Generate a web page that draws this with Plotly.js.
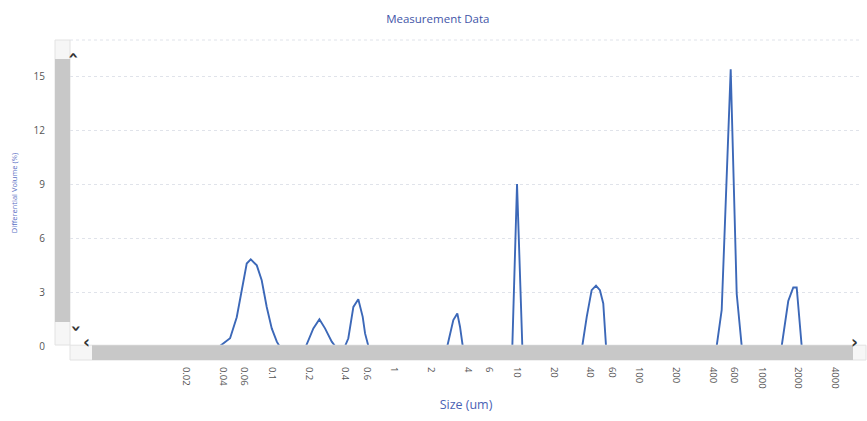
<!DOCTYPE html>
<html>
<head>
<meta charset="utf-8">
<script src="https://cdn.plot.ly/plotly-3.0.1.min.js"></script>
<style>html,body{margin:0;padding:0;background:#fff;}#chart{width:867px;height:421px;}</style>
</head>
<body>
<div id="chart"></div>
<script>
// Particle size (um) and differential volume (%)
const sizeUm = [
  0.0378, 0.0457, 0.0518, 0.0569, 0.0625, 0.0674, 0.0755, 0.0828, 0.0910, 0.100, 0.110, 0.1154,
  0.1905, 0.2186, 0.245, 0.2723, 0.309, 0.329,
  0.397, 0.422, 0.464, 0.509, 0.553, 0.578, 0.615,
  2.714, 3.037, 3.274, 3.444, 3.624,
  9.21, 10.06, 11.11,
  34.3, 37.3, 40.9, 44.4, 47.8, 50.9, 53.6,
  429.3, 471.6, 558.5, 625.2, 686.9,
  1457, 1648, 1811, 1931, 2121
];
const diffVolume = [
  0, 0.43, 1.6, 3.1, 4.58, 4.81, 4.48, 3.65, 2.17, 0.98, 0.24, 0,
  0, 0.98, 1.49, 0.98, 0.24, 0,
  0, 0.43, 2.17, 2.6, 1.62, 0.70, 0,
  0, 1.44, 1.81, 1.07, 0,
  0, 9.0, 0,
  0, 1.62, 3.1, 3.35, 3.1, 2.36, 0,
  0, 2.0, 15.37, 2.9, 0,
  0, 2.5, 3.25, 3.25, 0
];
const xTickVals = [0.02, 0.04, 0.06, 0.1, 0.2, 0.4, 0.6, 1, 2, 4, 6, 10, 20, 40, 60, 100, 200, 400, 600, 1000, 2000, 4000];
const xTickText = ['0.02', '0.04', '0.06', '0.1', '0.2', '0.4', '0.6', '1', '2', '4', '6', '10', '20', '40', '60', '100', '200', '400', '600', '1000', '2000', '4000'];
const yTickVals = [0, 3, 6, 9, 12, 15];

const W = 867, H = 421, ML = 70, MR = 5, MT = 40, MB = 75;
const PW = W - ML - MR, PH = H - MT - MB;
const px = p => (p - ML) / PW;          // pixel x -> paper x
const py = p => (H - MB - p) / PH;      // pixel y -> paper y

const grey = '#c8c8c8';
const shapes = [
  // top border (dotted)
  {type: 'line', xref: 'paper', yref: 'paper', x0: 0, x1: 1, y0: 1, y1: 1, line: {color: '#e0e3ea', width: 1, dash: 'dot'}},
  // vertical scrollbar
  {type: 'rect', xref: 'paper', yref: 'paper', x0: px(55), x1: px(70), y0: py(345), y1: py(40), fillcolor: '#f6f6f6', line: {color: '#e2e2e2', width: 1}, layer: 'above'},
  {type: 'rect', xref: 'paper', yref: 'paper', x0: px(55), x1: px(70), y0: py(322), y1: py(59), fillcolor: grey, line: {width: 0}, layer: 'above'},
  // horizontal scrollbar
  {type: 'rect', xref: 'paper', yref: 'paper', x0: px(70), x1: px(866), y0: py(360), y1: py(345.2), fillcolor: '#f6f6f6', line: {color: '#e2e2e2', width: 1}, layer: 'above'},
  {type: 'rect', xref: 'paper', yref: 'paper', x0: px(92), x1: px(853), y0: py(360), y1: py(345.2), fillcolor: grey, line: {width: 0}, layer: 'above'}
];
const arrowFont = {family: 'DejaVu Sans', size: 17, color: '#333'};
const annotations = [
  {xref: 'paper', yref: 'paper', x: px(62.5), y: py(50), text: '<b>‹</b>', textangle: 90, showarrow: false, font: arrowFont},
  {xref: 'paper', yref: 'paper', x: px(62.5), y: py(334), text: '<b>‹</b>', textangle: -90, showarrow: false, font: arrowFont},
  {xref: 'paper', yref: 'paper', x: px(81), y: py(354), text: '<b>‹</b>', showarrow: false, font: arrowFont},
  {xref: 'paper', yref: 'paper', x: px(859.5), y: py(354), text: '<b>›</b>', showarrow: false, font: arrowFont}
];

const trace = {
  x: sizeUm, y: diffVolume, type: 'scatter', mode: 'lines',
  line: {color: '#3c68b8', width: 1.9}, hoverinfo: 'x+y'
};

const layout = {
  width: W, height: H,
  margin: {l: ML, r: MR, t: MT, b: MB},
  paper_bgcolor: '#ffffff', plot_bgcolor: '#ffffff',
  font: {family: 'Open Sans, Noto Sans, sans-serif', color: '#555'},
  showlegend: false,
  title: {text: 'Measurement Data', x: 0.505, xanchor: 'center', y: 0.955, yanchor: 'middle', font: {size: 11.5, color: '#4255a8'}},
  xaxis: {
    type: 'log', range: [-2.647, 3.819],
    tickmode: 'array', tickvals: xTickVals, ticktext: xTickText,
    tickangle: 90, ticks: 'outside', ticklen: 18, tickcolor: 'rgba(0,0,0,0)',
    tickfont: {size: 9.5, color: '#555'},
    showgrid: false, zeroline: false, showline: false,
    title: {text: 'Size (um)', font: {size: 12.5, color: '#4a62b5'}, standoff: 12}
  },
  yaxis: {
    range: [0, 17], tickmode: 'array', tickvals: yTickVals,
    ticks: 'outside', ticklen: 22, tickcolor: 'rgba(0,0,0,0)',
    tickfont: {size: 10, color: '#555'},
    showgrid: true, gridcolor: '#e0e3ea', griddash: 'dot', gridwidth: 1,
    zeroline: false, showline: false,
    title: {text: 'Differential Volume (%)', font: {size: 7.5, color: '#5b70c4'}, standoff: 14}
  },
  shapes: shapes,
  annotations: annotations
};

Plotly.newPlot('chart', [trace], layout, {displayModeBar: false, staticPlot: true});
</script>
</body>
</html>
